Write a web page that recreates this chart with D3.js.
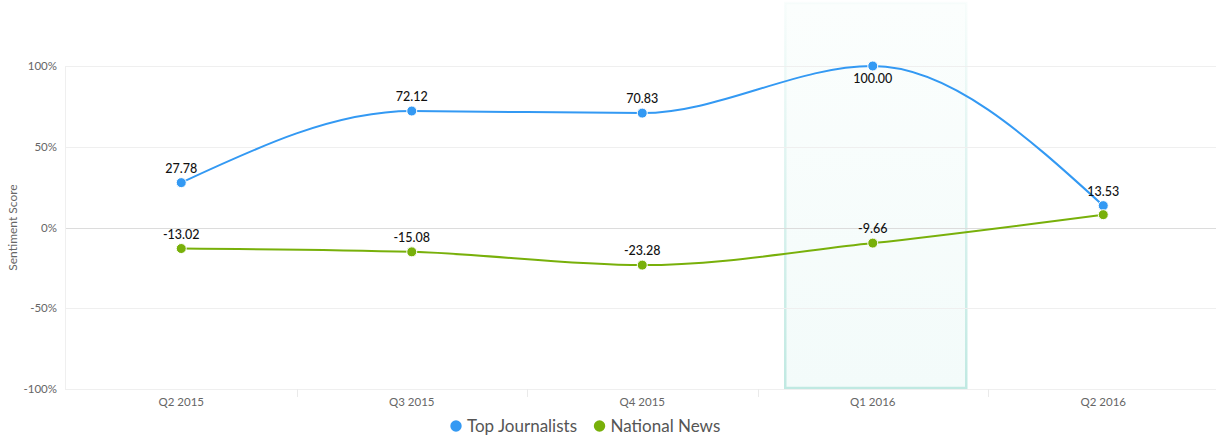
<!DOCTYPE html>
<html>
<head>
<meta charset="utf-8">
<script src="https://cdn.jsdelivr.net/npm/d3@7"></script>
<style>
  html, body { margin: 0; padding: 0; background: #fff; }
  svg { display: block; font-family: Lato, "Open Sans", sans-serif; }
</style>
</head>
<body>
<svg id="chart" width="1216" height="437"></svg>
<script>
// Quarterly sentiment scores per source
const quarters = ["Q2 2015", "Q3 2015", "Q4 2015", "Q1 2016", "Q2 2016"];
const topJournalists = [27.78, 72.12, 70.83, 100.00, 13.53];
const nationalNews = [-13.02, -15.08, -23.28, -9.66, 7.94];
const yTicks = [-100, -50, 0, 50, 100];
const highlighted = "Q1 2016";

const series = [
  { name: "Top Journalists", values: topJournalists, color: "#3399f3" },
  { name: "National News", values: nationalNews, color: "#78b00a" }
];

const svg = d3.select("#chart");
const W = 1216, H = 437;
const margin = { top: 66, bottom: 48, left: 65 };
const plotBottom = H - margin.bottom;

const x = d3.scaleBand().domain(quarters).range([66, 1218.5]);
const y = d3.scaleLinear().domain([-100, 100]).range([plotBottom, margin.top]);
const cx = q => x(q) + x.bandwidth() / 2;

// Highlighted quarter
const defs = svg.append("defs");
const fillGrad = defs.append("linearGradient").attr("id", "hlFill")
  .attr("x1", 0).attr("y1", 0).attr("x2", 0).attr("y2", 1);
fillGrad.append("stop").attr("offset", 0).attr("stop-color", "#fbfefd");
fillGrad.append("stop").attr("offset", 1).attr("stop-color", "#f3fbfa");
const strokeGrad = defs.append("linearGradient").attr("id", "hlStroke")
  .attr("gradientUnits", "userSpaceOnUse")
  .attr("x1", 0).attr("y1", 3).attr("x2", 0).attr("y2", plotBottom);
strokeGrad.append("stop").attr("offset", 0).attr("stop-color", "#c6ebe5").attr("stop-opacity", 0.1);
strokeGrad.append("stop").attr("offset", 0.5).attr("stop-color", "#c6ebe5").attr("stop-opacity", 0.6);
strokeGrad.append("stop").attr("offset", 1).attr("stop-color", "#c0e9e2").attr("stop-opacity", 1);

const hbW = 181;
svg.append("rect")
  .attr("x", cx(highlighted) - hbW / 2 + 3)
  .attr("y", 3)
  .attr("width", hbW)
  .attr("height", plotBottom - 3 - 1)
  .attr("fill", "url(#hlFill)")
  .attr("stroke", "url(#hlStroke)")
  .attr("stroke-width", 2.5);

// Horizontal grid
svg.append("g").selectAll("line").data(yTicks).join("line")
  .attr("x1", margin.left).attr("x2", W)
  .attr("y1", d => Math.round(y(d)) + 0.5).attr("y2", d => Math.round(y(d)) + 0.5)
  .attr("stroke", d => d === 0 ? "#dcdcdc" : "#efefef")
  .attr("stroke-width", 1);

// Y axis line
svg.append("line")
  .attr("x1", margin.left + 0.5).attr("x2", margin.left + 0.5)
  .attr("y1", margin.top).attr("y2", plotBottom)
  .attr("stroke", "#efefef");

// Y tick labels
const yAxis = d3.axisLeft(y).tickValues(yTicks).tickFormat(d => d + "%").tickSize(0).tickPadding(8);
const gy = svg.append("g").attr("transform", `translate(${margin.left},0)`).call(yAxis);
gy.select(".domain").remove();
gy.selectAll("text").attr("fill", "#666").attr("font-size", 11.5).attr("font-family", "Lato, sans-serif");

// X axis
const xAxis = d3.axisBottom(x).tickSize(0).tickPadding(9);
const gx = svg.append("g").attr("transform", `translate(0,${plotBottom})`).call(xAxis);
gx.select(".domain").remove();
gx.selectAll("text").attr("fill", "#666").attr("font-size", 11.5).attr("font-family", "Lato, sans-serif");
// Band boundary ticks
svg.append("g").selectAll("line").data(quarters.slice(1)).join("line")
  .attr("x1", d => Math.round(x(d)) + 0.5).attr("x2", d => Math.round(x(d)) + 0.5)
  .attr("y1", plotBottom).attr("y2", plotBottom + 8)
  .attr("stroke", "#eaeaea");

// Y axis title
svg.append("text")
  .attr("transform", `translate(17,${y(0)}) rotate(-90)`)
  .attr("text-anchor", "middle")
  .attr("fill", "#666").attr("font-size", 12)
  .text("Sentiment Score");

// Lines
const line = d3.line()
  .x((d, i) => cx(quarters[i]))
  .y(d => y(d))
  .curve(d3.curveMonotoneX);

series.forEach(s => {
  svg.append("path")
    .attr("d", line(s.values))
    .attr("fill", "none")
    .attr("stroke", s.color)
    .attr("stroke-width", 2);
});

// Markers
series.forEach(s => {
  svg.append("g").selectAll("circle").data(s.values).join("circle")
    .attr("cx", (d, i) => cx(quarters[i]))
    .attr("cy", d => y(d))
    .attr("r", 5)
    .attr("fill", s.color)
    .attr("stroke", "#fff")
    .attr("stroke-width", 1);
});

// Data labels, placed above points; flipped below at the top edge, dropped when colliding
const placed = [];
series.forEach(s => {
  s.values.forEach((v, i) => {
    const px = cx(quarters[i]);
    let py = y(v) - 10;
    if (py - 12 < margin.top) py = y(v) + 17;
    const box = { x0: px - 18, x1: px + 18, y0: py - 12, y1: py + 2 };
    const hitsLabel = placed.some(b => !(box.x1 < b.x0 || box.x0 > b.x1 || box.y1 < b.y0 || box.y0 > b.y1));
    const hitsPoint = series.some(o => o !== s && Math.abs(y(o.values[i]) - (py - 5)) < 9);
    if (hitsLabel || hitsPoint) return;
    placed.push(box);
    svg.append("text")
      .attr("x", px).attr("y", py)
      .attr("text-anchor", "middle")
      .attr("fill", "#111")
      .attr("font-size", 12.5)
      .attr("font-weight", 500)
      .text(v.toFixed(2));
  });
});

// Legend
const legend = svg.append("g").attr("transform", `translate(0,${H - 5.5})`);
let lx = 450.5;
series.forEach(s => {
  const g = legend.append("g").attr("transform", `translate(${lx},0)`);
  g.append("circle").attr("cx", 5.5).attr("cy", -5.5).attr("r", 5.7).attr("fill", s.color);
  const t = g.append("text").attr("x", 16.5).attr("y", 0)
    .attr("fill", "#555").attr("font-size", 17).text(s.name);
  lx += 16.5 + t.node().getComputedTextLength() + 17;
});
</script>
</body>
</html>
